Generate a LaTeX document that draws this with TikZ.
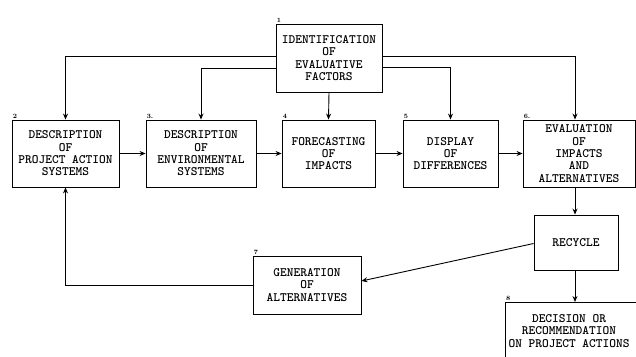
\documentclass[tikz,border=0pt]{standalone}
\usepackage{tikz}
\usetikzlibrary{positioning, arrows.meta}

\begin{document}
\begin{tikzpicture}[x=1pt, y=-1pt, >=Stealth,
  box/.style={draw, line width=0.9pt, inner sep=0pt, align=center,
    font=\fontsize{12.8}{12.3}\selectfont\ttfamily\bfseries},
  txt/.style={inner sep=0pt, align=center,
    font=\fontsize{12.8}{12.3}\selectfont\ttfamily\bfseries},
  num/.style={font=\fontsize{6.5}{6.5}\selectfont\bfseries, anchor=south west, inner sep=1pt},
  flow/.style={->, line width=0.9pt, >={Stealth[length=6pt, width=5pt]}}]

% --- Frame ---
\useasboundingbox (0,0) rectangle (636,356);
\clip (0,0) rectangle (636,356);

% --- Step boxes ---
\node[box, minimum width=106pt, minimum height=68pt, label={[num]north west:1}]
  (ident) at (329,58) {IDENTIFICATION\\OF\\EVALUATIVE\\FACTORS};
\node[box, minimum width=107pt, minimum height=67pt, label={[num]north west:2}]
  (project) at (65.5,153.5) {DESCRIPTION\\OF\\PROJECT ACTION\\SYSTEMS};
\node[box, minimum width=110pt, minimum height=67pt, label={[num]north west:3.}]
  (environ) at (201,153.5) {DESCRIPTION\\OF\\ENVIRONMENTAL\\SYSTEMS};
\node[box, minimum width=93pt, minimum height=67pt, label={[num]north west:4}]
  (forecast) at (328.5,153.5) {FORECASTING\\OF\\IMPACTS};
\node[box, minimum width=95pt, minimum height=67pt, label={[num]north west:5}]
  (display) at (450.5,153.5) {DISPLAY\\OF\\DIFFERENCES};
\node[box, minimum width=112pt, minimum height=67pt, label={[num]north west:6.}]
  (evaluate) at (579,153.5) {EVALUATION\\OF\\IMPACTS\\AND\\ALTERNATIVES};
\node[box, minimum width=84pt, minimum height=55pt]
  (recycle) at (576,242.5) {RECYCLE};
\node[box, minimum width=108pt, minimum height=58pt, label={[num]north west:7}]
  (generate) at (307,285) {GENERATION\\OF\\ALTERNATIVES};
\node[box, minimum width=150pt, minimum height=80pt, anchor=north west,
  label={[num]north west:8}] (decide) at (505,302) {};
\node[txt] (decidetxt) at (569,331) {DECISION OR\\RECOMMENDATION\\ON PROJECT ACTIONS};

% --- Evaluative factors feed ---
\draw[flow] ([yshift=2pt]ident.west) -| (project.north);
\draw[flow] ([yshift=-10pt]ident.west) -| (environ.north);
\draw[flow] (ident.south) -- (forecast.north);
\draw[flow] ([yshift=-9pt]ident.east) -| (display.north);
\draw[flow] ([yshift=2pt]ident.east) -| ([xshift=-4pt]evaluate.north);

% --- Main chain ---
\draw[flow] (project) -- (environ);
\draw[flow] (environ) -- (forecast);
\draw[flow] (forecast) -- (display);
\draw[flow] (display) -- (evaluate);
\draw[flow] ([xshift=-1pt]recycle.north |- evaluate.south) -- ([xshift=-1pt]recycle.north);
\draw[flow] ([xshift=-1pt]recycle.south) -- ([xshift=-1pt]recycle.south |- decide.north);

% --- Recycle loop ---
\draw[flow] ([yshift=-1pt]recycle.west) -- ([yshift=4pt]generate.east);
\draw[flow] (generate.west) -| (project.south);

\end{tikzpicture}
\end{document}
